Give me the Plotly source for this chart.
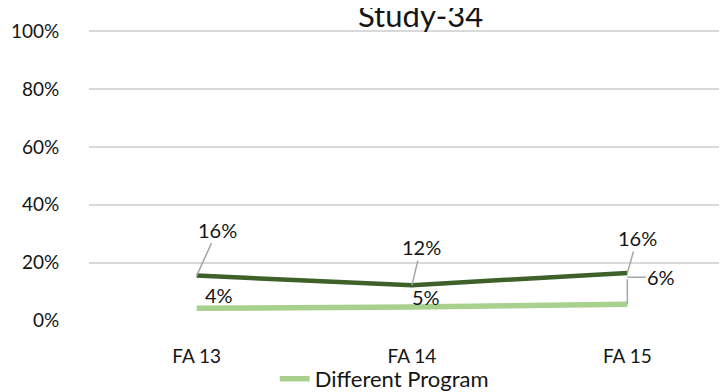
import plotly.graph_objects as go

categories = ["FA 13", "FA 14", "FA 15"]
same_program = [0.155, 0.122, 0.164]
different_program = [0.042, 0.046, 0.056]
y_ticks = [0, 0.2, 0.4, 0.6, 0.8, 1.0]
y_tick_labels = ["0%", "20%", "40%", "60%", "80%", "100%"]
title_text = "Study-34"

DARK = "#3D6129"
LIGHT = "#A9D18E"
LEADER = "#A6A6A6"
FONT = "Lato"
TXT = "#151515"

fig = go.Figure()
fig.add_trace(go.Scatter(x=categories, y=same_program, mode="lines", name="Same Program",
                         line=dict(color=DARK, width=4.5), showlegend=False))
fig.add_trace(go.Scatter(x=categories, y=different_program, mode="lines", name="Different Program",
                         line=dict(color=LIGHT, width=5.5), showlegend=True))

annotations = []
dark_offsets = [(21, -46), (9, -38), (10, -35)]
for c, v, (ax, ay) in zip(categories, same_program, dark_offsets):
    annotations.append(dict(x=c, y=v, xref="x", yref="y", text=f"{round(v*100):.0f}%",
                            showarrow=True, arrowhead=0, arrowwidth=1.5, arrowcolor=LEADER,
                            ax=ax, ay=ay, standoff=0, font=dict(family=FONT, size=20, color=TXT)))
light_shifts = [(22, 13), (14, 10)]
for c, v, (xs, ys) in zip(categories[:2], different_program[:2], light_shifts):
    annotations.append(dict(x=c, y=v, xref="x", yref="y", text=f"{round(v*100):.0f}%",
                            showarrow=False, xshift=xs, yshift=ys,
                            font=dict(family=FONT, size=20, color=TXT)))
annotations.append(dict(x=categories[2], y=different_program[2], xref="x", yref="y", text=" ",
                        showarrow=True, arrowhead=0, arrowwidth=1.5, arrowcolor=LEADER,
                        ax=0, ay=-27, standoff=0, font=dict(size=1)))
annotations.append(dict(x=categories[2], y=different_program[2], xref="x", yref="y",
                        text=f"{round(different_program[2]*100):.0f}%", yshift=27,
                        showarrow=True, arrowhead=0, arrowwidth=1.5, arrowcolor=LEADER,
                        ax=34, ay=0, standoff=0, font=dict(family=FONT, size=20, color=TXT)))
annotations.append(dict(x=0.513, y=1, xref="paper", yref="paper", text=title_text, showarrow=False,
                        xanchor="center", yanchor="bottom", yshift=-6,
                        font=dict(family=FONT, size=31, color=TXT)))

fig.update_layout(
    width=727, height=392,
    margin=dict(l=81, r=0, t=22, b=71),
    paper_bgcolor="white", plot_bgcolor="white",
    font=dict(family=FONT, color=TXT),
    annotations=annotations,
    showlegend=True,
    legend=dict(orientation="h", x=0.457, xanchor="center", y=-0.2, yanchor="middle",
                font=dict(family=FONT, size=22, color=TXT), bgcolor="rgba(0,0,0,0)"),
    xaxis=dict(type="category", range=[-0.5, 2.5], showgrid=False, zeroline=False, showline=False,
               ticks="outside", ticklen=18, tickcolor="rgba(0,0,0,0)",
               tickfont=dict(family=FONT, size=19, color=TXT)),
    yaxis=dict(range=[-0.002, 1.004], tickvals=y_ticks, ticktext=y_tick_labels, showgrid=True,
               gridcolor="#D9D9D9", gridwidth=1.5, zeroline=False, showline=False,
               ticks="outside", ticklen=25, tickcolor="rgba(0,0,0,0)",
               tickfont=dict(family=FONT, size=19, color=TXT)),
)

fig.write_html("out.html")
